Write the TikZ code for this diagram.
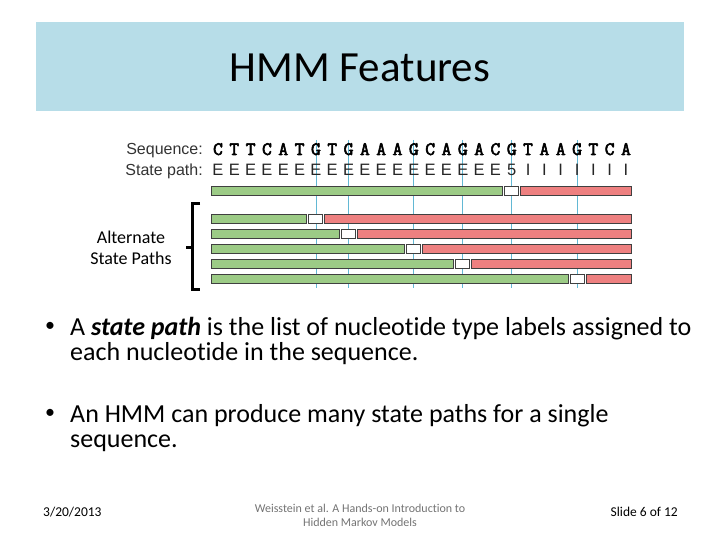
\documentclass[tikz,border=0pt]{standalone}
\usepackage{fontspec}
\setmainfont{Carlito}[Ligatures=NoCommon]
\newfontfamily\arialfont{Liberation Sans}
\newfontfamily\seqfont{Latin Modern Mono}[FakeBold=3]
\usetikzlibrary{positioning}
\definecolor{bandblue}{HTML}{B7DDE8}
\definecolor{exongreen}{HTML}{9CCB86}
\definecolor{intronred}{HTML}{EE8080}
\definecolor{siteblue}{HTML}{62B8D4}
\tikzset{
  lbl/.style    = {font=\arialfont\fontsize{16}{16}\selectfont, text=black!80,
                   anchor=base east, inner sep=0pt},
  seqch/.style  = {font=\seqfont\fontsize{19}{19}\selectfont,
                   anchor=base, inner sep=0pt},
  pathch/.style = {font=\arialfont\fontsize{16.5}{16.5}\selectfont, text=black!85,
                   anchor=base, inner sep=0pt},
  bar/.style    = {draw=black!75, line width=1pt},
  site/.style   = {draw=siteblue, line width=0.8pt},
  body/.style   = {font=\fontsize{26}{25}\selectfont, align=left, anchor=base west,
                   inner sep=0pt},
  dot/.style    = {font=\fontsize{20}{20}\selectfont, inner sep=0pt},
  foot/.style   = {font=\fontsize{13.5}{15}\selectfont, anchor=base, inner sep=0pt},
}

\begin{document}
\begin{tikzpicture}[x=1pt,y=-1pt]
    \useasboundingbox (0,0) rectangle (720,540);
    % title band
    \fill[bandblue] (36,22) rectangle (684,111);
    \node[font=\fontsize{43}{43}\selectfont, anchor=base, inner sep=0pt] (title) at (360,82) {HMM Features};

    % splice-site guide lines
    \foreach \i in {7,9,13,16,19,23}
      \draw[site] ({218+(\i-1)*16.32},140) -- ({218+(\i-1)*16.32},288);

    % sequence and state path
    \node[lbl] (seqlbl)  at (203,155) {Sequence:};
    \node[lbl] (pathlbl) at (203,176) {State path:};
    \foreach \c [count=\i] in {C,T,T,C,A,T,G,T,G,A,A,A,G,C,A,G,A,C,G,T,A,A,G,T,C,A}
      \node[seqch] (s\i) at ({218+(\i-1)*16.32},155) {\c};
    \foreach \c [count=\i] in {E,E,E,E,E,E,E,E,E,E,E,E,E,E,E,E,E,E,5,I,I,I,I,I,I,I}
      \node[pathch] (p\i) at ({218+(\i-1)*16.32},176) {\c};

    % state path bars: row y / split letter
    \foreach \y/\i in {191/19,219/7,234/9,249/13,264/16,279/23} {
      \pgfmathsetmacro\L{218+(\i-1)*16.32}
      \draw[bar, fill=exongreen] (211,\y-4.5) rectangle (\L-9,\y+4.5);
      \draw[bar, fill=white] (\L-7,\y-4.5) rectangle (\L+7,\y+4.5);
      \draw[bar, fill=intronred] (\L+9,\y-4.5) rectangle (631,\y+4.5);
    }

    % bracket and its label
    \draw[line width=3pt] (200,204) -- (192,204) -- (192,289) -- (200,289);
    \draw[line width=3pt] (186,247) -- (192,247);
    \node[font=\fontsize{18}{21}\selectfont, align=center, inner sep=0pt] (alt) at (131,248)
      {Alternate\\State Paths};

    % bullets
    \node[dot] (dot1) at (50,327) {\textbullet};
    \node[body] (b1) at (70,360) {A \textbf{\textit{state path}} is the list of nucleotide type labels assigned to\\
      each nucleotide in the sequence.};
    \node[dot] (dot2) at (50,414) {\textbullet};
    \node[body] (b2) at (70,447) {An HMM can produce many state paths for a single\\sequence.};

    % footer
    \node[foot, anchor=base west] (date) at (43,516) {3/20/2013};
    \node[foot, font=\fontsize{12}{13}\selectfont, text=black!55] (ref1) at (360,512) {Weisstein et al. A Hands-on Introduction to};
    \node[foot, font=\fontsize{12}{13}\selectfont, text=black!55] (ref2) at (360,526) {Hidden Markov Models};
    \node[foot, anchor=base east] (slide) at (678,516) {Slide 6 of 12};
  \end{tikzpicture}
\end{document}
